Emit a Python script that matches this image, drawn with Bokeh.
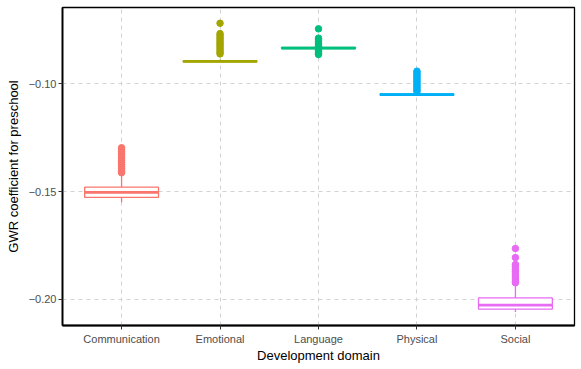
from bokeh.plotting import figure
from bokeh.models import FactorRange, Range1d, ColumnDataSource, FixedTicker
from bokeh.transform import dodge
from bokeh.embed import file_html
from bokeh.resources import INLINE

categories = ["Communication", "Emotional", "Language", "Physical", "Social"]
colors = ["#F8766D", "#A3A500", "#00BF7D", "#00B0F6", "#E76BF3"]

q1 = [-0.1527, -0.0899, -0.0837, -0.1053, -0.2045]
median = [-0.1504, -0.0897, -0.0835, -0.1051, -0.2027]
q3 = [-0.1480, -0.0894, -0.0832, -0.1048, -0.1993]
lower_whisker = [-0.1550, -0.0901, -0.0839, -0.1055, -0.2059]
upper_whisker = [-0.1425, -0.0888, -0.0826, -0.1043, -0.1935]

outliers_communication = [-0.1297, -0.1305, -0.1313, -0.1322, -0.1330, -0.1339, -0.1348,
                          -0.1356, -0.1365, -0.1374, -0.1383, -0.1392, -0.1401, -0.1408, -0.1413]
outliers_emotional = [-0.0720, -0.0768, -0.0776, -0.0785, -0.0793, -0.0802, -0.0811,
                      -0.0819, -0.0828, -0.0837, -0.0846, -0.0855, -0.0862]
outliers_language = [-0.0746, -0.0789, -0.0797, -0.0805, -0.0813, -0.0821, -0.0829,
                     -0.0838, -0.0846, -0.0853, -0.0860, -0.0865]
outliers_physical = [-0.0942, -0.0950, -0.0958, -0.0966, -0.0974, -0.0982, -0.0990,
                     -0.0998, -0.1006, -0.1014, -0.1022, -0.1030, -0.1037]
outliers_social = [-0.1764, -0.1806, -0.1838, -0.1846, -0.1854, -0.1862, -0.1870,
                   -0.1878, -0.1886, -0.1894, -0.1902, -0.1910, -0.1918, -0.1923]

y_ticks = [-0.20, -0.15, -0.10]
y_tick_labels = ["\u22120.20", "\u22120.15", "\u22120.10"]

outlier_lists = [outliers_communication, outliers_emotional, outliers_language,
                 outliers_physical, outliers_social]

box_src = ColumnDataSource(dict(cat=categories, q1=q1, q3=q3, med=median,
                                lw=lower_whisker, uw=upper_whisker, color=colors))
ox, oy, oc = [], [], []
for c, col, vals in zip(categories, colors, outlier_lists):
    for v in vals:
        ox.append(c); oy.append(v); oc.append(col)
out_src = ColumnDataSource(dict(x=ox, y=oy, color=oc))

p = figure(width=581, height=369, output_backend="svg", toolbar_location=None,
           x_range=FactorRange(factors=categories, range_padding=0.04,
                               range_padding_units="percent"),
           y_range=Range1d(-0.2121, -0.0647),
           min_border_left=62, min_border_right=7, min_border_top=7,
           min_border_bottom=44)

p.background_fill_color = "white"
p.border_fill_color = "white"
p.outline_line_color = "black"
p.outline_line_width = 1.3

# whiskers
p.segment(x0="cat", y0="q3", x1="cat", y1="uw", source=box_src, line_color="color", line_width=1.3)
p.segment(x0="cat", y0="q1", x1="cat", y1="lw", source=box_src, line_color="color", line_width=1.3)
# boxes
p.vbar(x="cat", top="q3", bottom="q1", width=0.75, source=box_src,
       fill_color="white", line_color="color", line_width=1.3)
# medians
p.segment(x0=dodge("cat", -0.375, range=p.x_range), y0="med",
          x1=dodge("cat", 0.375, range=p.x_range), y1="med",
          source=box_src, line_color="color", line_width=2.8)
# outliers
p.scatter(x="x", y="y", source=out_src, size=6.5, fill_color="color", line_color="color")

# grid
for g in (p.xgrid, p.ygrid):
    g.grid_line_color = "#D2D2D2"
    g.grid_line_dash = "4 4"
    g.grid_line_width = 1

p.yaxis.ticker = FixedTicker(ticks=y_ticks)
p.yaxis.major_label_overrides = {t: l for t, l in zip(y_ticks, y_tick_labels)}

for ax in (p.xaxis, p.yaxis):
    ax.axis_line_color = "black"
    ax.axis_line_width = 1.8
    ax.major_tick_line_color = "#333333"
    ax.major_tick_out = 4
    ax.major_tick_in = 0
    ax.minor_tick_line_color = None
    ax.major_label_text_font = "Liberation Sans"
    ax.major_label_text_font_size = "11px"
    ax.major_label_text_color = "#4D4D4D"
    ax.axis_label_text_font = "Liberation Sans"
    ax.axis_label_text_font_size = "13px"
    ax.axis_label_text_font_style = "normal"
    ax.axis_label_text_color = "black"

p.xaxis.axis_label = "Development domain"
p.yaxis.axis_label = "GWR coefficient for preschool"
p.xaxis.major_label_standoff = 3
p.xaxis.axis_label_standoff = 0
p.yaxis.major_label_standoff = 2
p.yaxis.axis_label_standoff = 5

open("out.html", "w").write(file_html(p, INLINE))
